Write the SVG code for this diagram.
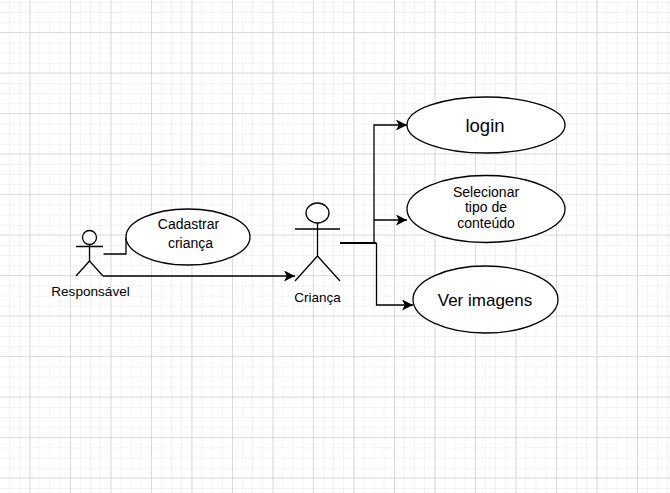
<svg xmlns="http://www.w3.org/2000/svg" width="670" height="493" viewBox="0 0 670 493">
<style>
.s{fill:none;stroke:#000;stroke-width:1.3}
.u{fill:#fff;stroke:#000;stroke-width:1.3}
.c{fill:none;stroke:#000;stroke-width:1.3}
text{font-family:"Liberation Sans",Arial,sans-serif;fill:#000;text-anchor:middle}
</style>
<defs>
<marker id="a" markerUnits="userSpaceOnUse" markerWidth="13" markerHeight="12" refX="11" refY="5.5" orient="auto"><path d="M0 0L11 5.5L0 11L2.8 5.5Z" fill="#000"/></marker>
<pattern id="minor" patternUnits="userSpaceOnUse" x="-0.2" y="2.9" width="10.125" height="10.125"><path d="M10 0V10.125M0 10H10.125" fill="none" stroke="#f2f2f2" stroke-width="1.5"/></pattern>
<pattern id="major" patternUnits="userSpaceOnUse" x="-10" y="-7.5" width="40.5" height="40.5"><path d="M40.5 0V40.5M0 40.5H40.5" fill="none" stroke="#d6d6d6" stroke-width="1.6"/></pattern>
</defs>
<rect width="670" height="493" fill="#fff"/>
<rect width="670" height="493" fill="url(#minor)"/>
<rect width="670" height="493" fill="url(#major)"/>
<g id="connectors">
<path class="c" d="M103.500 254H126V237"/>
<path class="c" d="M103 276H295" marker-end="url(#a)"/>
<path d="M340 243H376.500" fill="none" stroke="#000" stroke-width="2"/>
<path class="c" d="M374 243V125H407" marker-end="url(#a)"/>
<path class="c" d="M374 220H407" marker-end="url(#a)"/>
<path class="c" d="M376.500 243V305H413" marker-end="url(#a)"/>
</g>
<g id="responsavel">
<circle class="u" cx="89.500" cy="237.500" r="7"/>
<path class="s" d="M89.500 244.500V261M76 246.500H103M76 276L89.500 261L103 276"/>
<text x="90.500" y="296" font-size="13.600">Responsável</text>
</g>
<g id="crianca">
<ellipse class="u" cx="317.500" cy="213" rx="11.500" ry="10"/>
<path class="s" d="M317.500 223V256M295 229H340M295 281L317.500 256L340 281"/>
<text x="317.500" y="302" font-size="13.500">Criança</text>
</g>
<g id="cadastrar">
<ellipse class="u" cx="188" cy="237" rx="62" ry="28"/>
<text x="188.500" y="229" font-size="14">Cadastrar</text>
<text x="190.500" y="248" font-size="14">criança</text>
</g>
<g id="login">
<ellipse class="u" cx="486" cy="125" rx="79" ry="28"/>
<text x="485" y="132" font-size="18.500">login</text>
</g>
<g id="selecionar">
<ellipse class="u" cx="486" cy="209" rx="79" ry="33.500"/>
<text x="486" y="197" font-size="14">Selecionar</text>
<text x="486" y="212" font-size="14">tipo de</text>
<text x="486" y="228" font-size="14">conteúdo</text>
</g>
<g id="ver-imagens">
<ellipse class="u" cx="485.500" cy="299.500" rx="72.500" ry="33.500"/>
<text x="485" y="306" font-size="17">Ver imagens</text>
</g>
</svg>
